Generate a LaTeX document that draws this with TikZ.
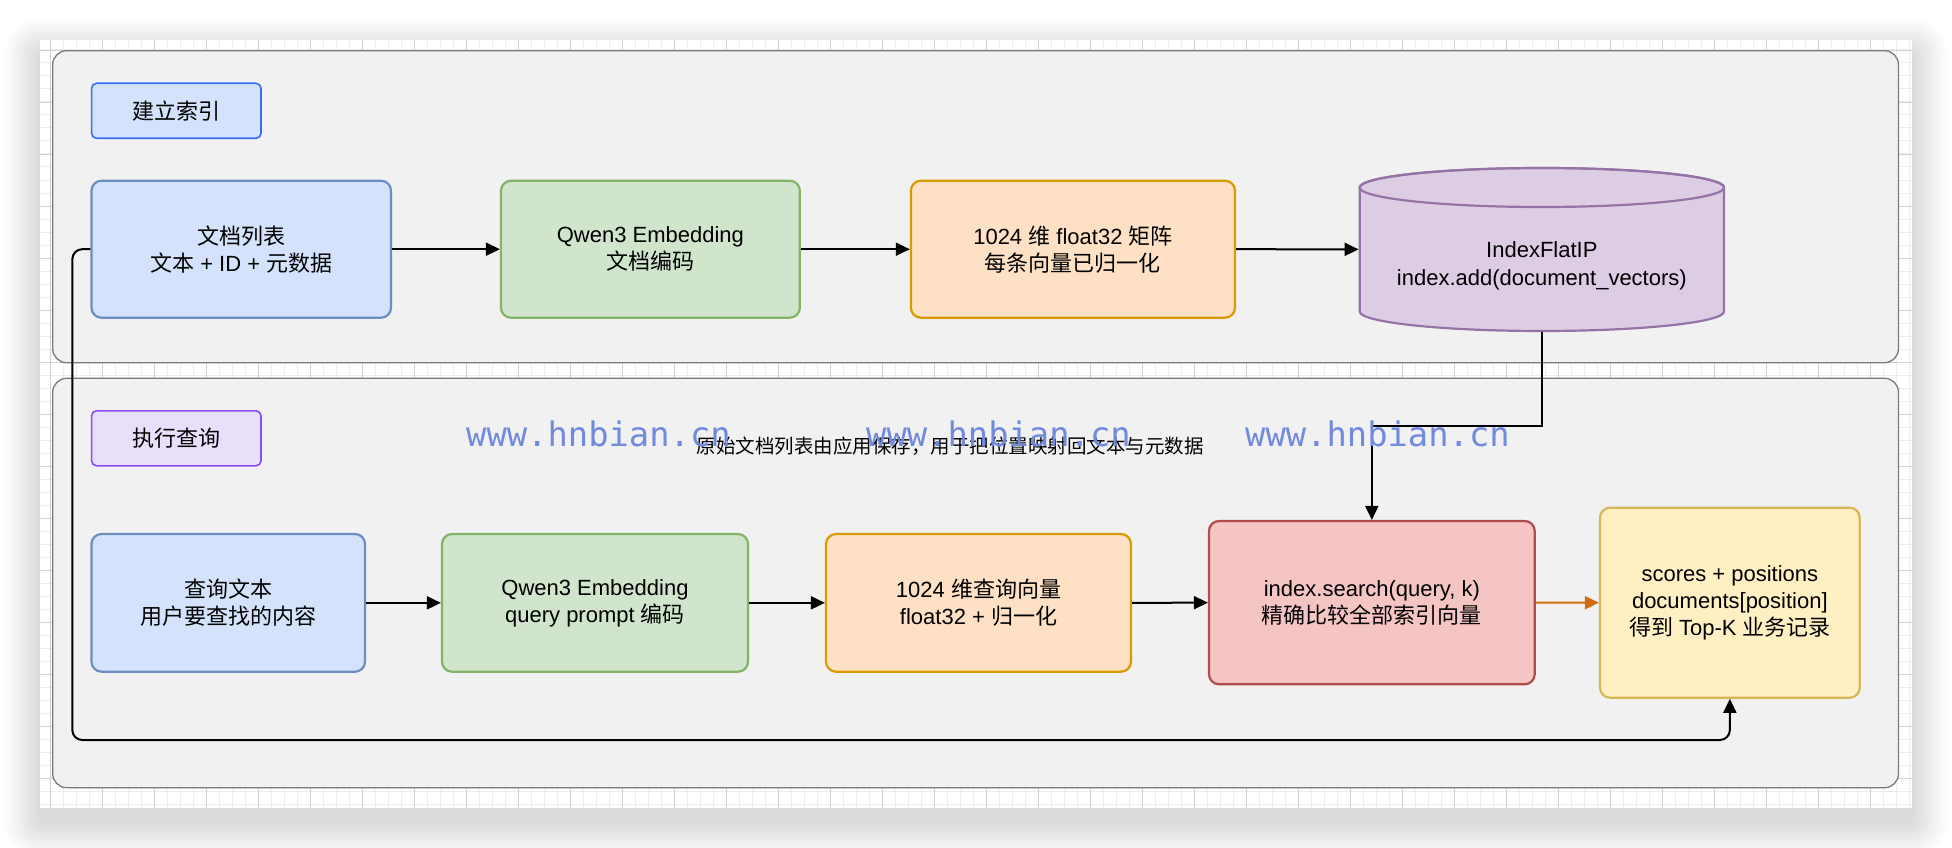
\documentclass[tikz,border=0pt]{standalone}
\usepackage{fontspec}
\setmainfont{Liberation Sans}
\newfontfamily\zhfont{Noto Sans CJK SC}
\newfontfamily\wmfont{DejaVu Sans Mono}
\usetikzlibrary{arrows.meta}
\newcommand\zh[1]{{\zhfont #1}}
\definecolor{bluefill}{HTML}{D4E3FB}
\definecolor{bluedraw}{HTML}{6C8EBF}
\definecolor{greenfill}{HTML}{D0E5CC}
\definecolor{greendraw}{HTML}{82B366}
\definecolor{orangefill}{HTML}{FEE1C4}
\definecolor{orangedraw}{HTML}{D79B00}
\definecolor{purplefill}{HTML}{DCCDE5}
\definecolor{purpledraw}{HTML}{9673A6}
\definecolor{redfill}{HTML}{F5C5C4}
\definecolor{reddraw}{HTML}{B24B4B}
\definecolor{yellowfill}{HTML}{FFF0C4}
\definecolor{yellowdraw}{HTML}{D6B656}
\definecolor{tbluefill}{HTML}{D4E3FB}
\definecolor{tbluedraw}{HTML}{3A6DF5}
\definecolor{tpurpfill}{HTML}{E8E0FB}
\definecolor{tpurpdraw}{HTML}{8C4BF2}
\definecolor{contfill}{HTML}{F1F1F1}
\definecolor{contdraw}{HTML}{7A7A7A}
\definecolor{wmcolor}{HTML}{7189DE}
\definecolor{arroworange}{HTML}{D46A0F}
\definecolor{gridminor}{HTML}{ECECEC}
\definecolor{gridmajor}{HTML}{D2D2D2}
\begin{document}
\begin{tikzpicture}[x=1pt,y=-1pt,
  container/.style={fill=contfill,draw=contdraw,line width=1.3pt,rounded corners=14pt},
  procbox/.style={rounded corners=10pt,line width=2.2pt,inner sep=4pt,align=center,
    font=\fontsize{22}{27}\selectfont,minimum height=137pt},
  titlebox/.style={rounded corners=5pt,line width=1.6pt,minimum width=169.4pt,minimum height=55pt,
    font=\zhfont\fontsize{22}{27}\selectfont},
  arr/.style={line width=2pt,-{Triangle[length=14pt,width=13pt]}},
  wm/.style={anchor=base west,inner sep=0pt,text=wmcolor,font=\wmfont\fontsize{33.8}{40}\selectfont}
]
\useasboundingbox (0,0) rectangle (1952,848);
\fill[white] (0,0) rectangle (1952,848);
% soft window shadow
\foreach \k in {1,...,36}
  \fill[black,opacity=0.0038,rounded corners={\k*1pt}]
    ({40-\k},{40-\k+14}) rectangle ({1911.7+\k},{807.7+\k+14});
% canvas
\fill[white] (40,40) rectangle (1911.7,807.7);
\begin{scope}
\clip (40,40) rectangle (1911.7,807.7);
\foreach \i in {-1,...,143} \draw[gridminor,line width=1pt] ({50.7+13*\i},40) -- ({50.7+13*\i},807.7);
\foreach \i in {-1,...,59} \draw[gridminor,line width=1pt] (40,{50+13*\i}) -- (1911.7,{50+13*\i});
\foreach \i in {0,...,36} \draw[gridmajor,line width=0.8pt] ({50.7+52*\i},40) -- ({50.7+52*\i},807.7);
\foreach \i in {0,...,15} \draw[gridmajor,line width=0.8pt] (40,{50+52*\i}) -- (1911.7,{50+52*\i});
\end{scope}
% containers
\path[container] (52.7,50.7) rectangle (1898.5,362.7);
\path[container] (52.7,378.3) rectangle (1898.5,787.7);
% title boxes
\node[titlebox,fill=tbluefill,draw=tbluedraw] (t1) at (176.3,110.8) {建立索引};
\node[titlebox,fill=tpurpfill,draw=tpurpdraw] (t2) at (176.3,438.3) {执行查询};
% top row
\node[procbox,fill=bluefill,draw=bluedraw,minimum width=299.5pt] (doc) at (241.25,249.2)
  {\zh{文档列表}\\\zh{文本} + ID + \zh{元数据}};
\node[procbox,fill=greenfill,draw=greendraw,minimum width=298.8pt] (qwen) at (650.4,249.2)
  {Qwen3 Embedding\\\zh{文档编码}};
\node[procbox,fill=orangefill,draw=orangedraw,minimum width=324.1pt] (vec) at (1072.95,249.2)
  {1024 \zh{维} float32 \zh{矩阵}\\\zh{每条向量已归一化}};
% cylinder
\path[fill=purplefill,draw=purpledraw,line width=2.2pt]
  (1359.7,187.5) -- (1359.7,311.5)
  arc[start angle=180,end angle=360,x radius=182.15pt,y radius=19.5pt]
  -- (1724,187.5)
  arc[start angle=0,end angle=180,x radius=182.15pt,y radius=19.5pt] -- cycle;
\draw[purpledraw,line width=2.2pt] (1541.85,187.5) ellipse [x radius=182.15pt,y radius=19.5pt];
\node[minimum width=364.3pt,minimum height=163.3pt,inner sep=0pt,outer sep=1.1pt] (db) at (1541.85,249.35) {};
\node[align=center,font=\fontsize{22}{28}\selectfont] (dbtext) at (1541.85,266) {IndexFlatIP\\index.add(document\_vectors)};
% bottom row
\node[procbox,fill=bluefill,draw=bluedraw,minimum width=273.5pt,minimum height=137.7pt] (query) at (228.25,602.85)
  {\zh{查询文本}\\\zh{用户要查找的内容}};
\node[procbox,fill=greenfill,draw=greendraw,minimum width=306pt,minimum height=137.7pt] (qembed) at (595,602.85)
  {Qwen3 Embedding\\query prompt \zh{编码}};
\node[procbox,fill=orangefill,draw=orangedraw,minimum width=305pt,minimum height=137.7pt] (qvec) at (978.5,602.85)
  {1024 \zh{维查询向量}\\float32 + \zh{归一化}};
\node[procbox,fill=redfill,draw=reddraw,minimum width=325.7pt,minimum height=163.3pt] (search) at (1371.85,602.65)
  {index.search(query, k)\\\zh{精确比较全部索引向量}};
\node[procbox,fill=yellowfill,draw=yellowdraw,minimum width=259.7pt,minimum height=190pt] (result) at (1729.85,602.7)
  {scores + positions\\documents[position]\\\zh{得到} Top-K \zh{业务记录}};
% connectors
\draw[arr] (doc.east) -- (qwen.west);
\draw[arr] (qwen.east) -- (vec.west);
\draw[arr] (vec.east) -- (db.west);
\coordinate (jn) at (1541.85,425.7);
\draw[arr] (db.south) -- (jn) -| (search.north);
\draw[arr] (query.east) -- (qembed.west);
\draw[arr] (qembed.east) -- (qvec.west);
\draw[arr] (qvec.east) -- (search.west);
\draw[arr,draw=arroworange,fill=arroworange] (search.east) -- (result.west);
\coordinate (fb) at (72.3,740);
\draw[arr,rounded corners=10pt] (doc.west) -| (fb) -| (result.south);
% annotation
\node[anchor=west,inner sep=0pt,font=\zhfont\fontsize{19.5}{22}\selectfont] (note) at (696.7,446.5)
  {原始文档列表由应用保存，用于把位置映射回文本与元数据};
% watermarks
\node[wm] (wm1) at (466,446.7) {www.hnbian.cn};
\node[wm] (wm2) at (866,446.7) {www.hnbian.cn};
\node[wm] (wm3) at (1245,446.7) {www.hnbian.cn};
\end{tikzpicture}
\end{document}
